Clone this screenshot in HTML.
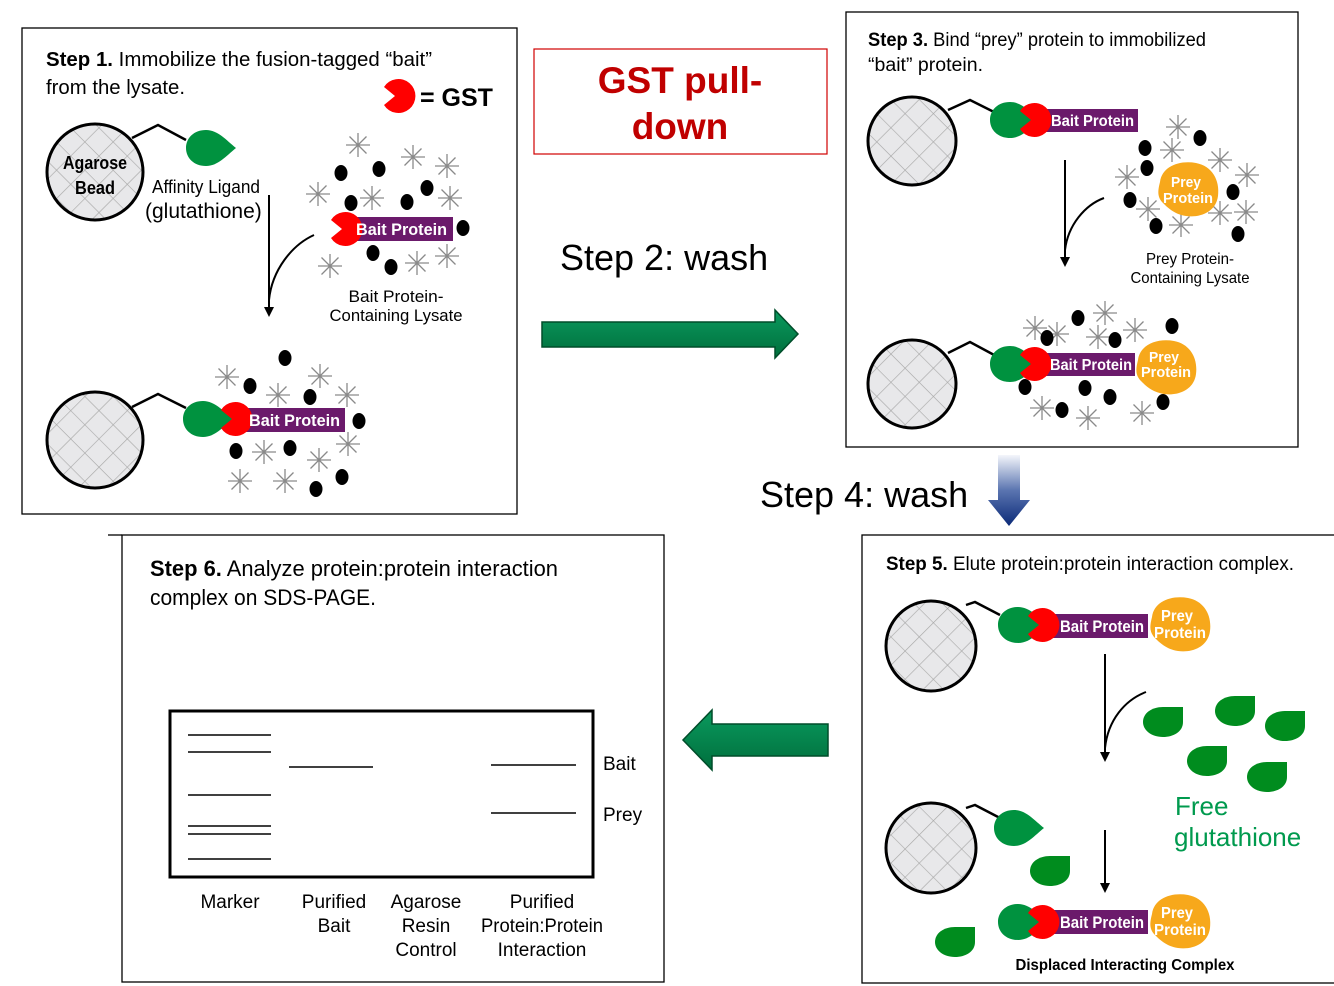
<!DOCTYPE html>
<html><head><meta charset="utf-8"><style>
html,body{margin:0;padding:0;background:#fff;}
svg{display:block}
.n{font-family:"Liberation Sans Narrow","Liberation Sans",sans-serif;}
.s{font-family:"Liberation Sans",sans-serif;}
</style></head><body>
<svg width="1334" height="986" viewBox="0 0 1334 986" xmlns="http://www.w3.org/2000/svg">
<defs>
<pattern id="hatch" width="20" height="20" patternUnits="userSpaceOnUse" patternTransform="rotate(45)">
<rect width="20" height="20" fill="#e8e8ea"/>
<path d="M0,0 H20 M0,0 V20" stroke="#a8a8a8" stroke-width="1.3"/>
</pattern>
<path id="leaf" d="M26,0 C16,-8 8,-18 -4,-18 C-16,-18 -24,-10 -24,0 C-24,10 -16,18 -4,18 C8,18 16,8 26,0 Z" fill="#00923f"/>
<path id="free" d="M20,-15 L20,0 C20,10 10,15 0,15 C-12,15 -20,8 -20,0 C-20,-9 -11,-15 0,-15 Z" fill="#008c1e"/>
<path id="gst" d="M-14,-9 L-3,0 L-14,9 A17,17 0 1 0 -14,-9 Z" fill="#ff0000"/>
<g id="star" stroke="#8a8a8a" stroke-width="1.3"><path d="M-12,0H12M0,-12V12M-8.5,-8.5L8.5,8.5M-8.5,8.5L8.5,-8.5"/></g>
<ellipse id="dot" rx="6.5" ry="8" fill="#000"/>
<path id="prey" d="M-28,-8 C-26,-24 -8,-30 8,-27 C24,-24 32,-10 30,6 C28,22 12,28 -2,26 C-14,24 -20,18 -26,12 C-31,6 -30,0 -28,-8 Z" fill="#f7a81b"/>
<marker id="ah" markerWidth="10" markerHeight="10" refX="5" refY="5" orient="auto" markerUnits="userSpaceOnUse"><path d="M0,0 L10,5 L0,10 Z" fill="#000"/></marker>
<linearGradient id="gg" x1="0" y1="0" x2="0" y2="1"><stop offset="0" stop-color="#0a9a5e"/><stop offset="1" stop-color="#006e3c"/></linearGradient>
<linearGradient id="bg" x1="0" y1="0" x2="0" y2="1"><stop offset="0" stop-color="#f4f6fb"/><stop offset="0.5" stop-color="#5a74b0"/><stop offset="1" stop-color="#0b2a78"/></linearGradient>
</defs>

<g fill="none" stroke="#000" stroke-width="1.3">
<rect x="22" y="28" width="495" height="486"/>
<rect x="846" y="12" width="452" height="435"/>
<rect x="122" y="535" width="542" height="447"/>
<path d="M108,535 H122"/>
<rect x="862" y="535" width="490" height="448"/>
</g>
<rect x="534" y="49" width="293" height="105" fill="none" stroke="#d00000" stroke-width="1.2"/>
<text x="680" y="93" text-anchor="middle" class="s" font-size="37" font-weight="bold" fill="#c00000">GST pull-</text>
<text x="680" y="139" text-anchor="middle" class="s" font-size="37" font-weight="bold" fill="#c00000">down</text>

<text x="560" y="270" class="s" font-size="36">Step 2: wash</text>
<path d="M542,322 H775 V310 L798,334 L775,358 V347 H542 Z" fill="url(#gg)" stroke="#004d2a" stroke-width="1.5"/>
<text x="760" y="507" class="s" font-size="36">Step 4: wash</text>
<path d="M998,455 H1020 V500 H1030 L1009,526 L988,500 H998 Z" fill="url(#bg)"/>
<path d="M828,724 H712 V710 L683,740 L712,770 V756 H828 Z" fill="url(#gg)" stroke="#004d2a" stroke-width="1.5"/>

<!-- STEP 1 -->
<text x="46" y="66" class="n" font-size="20" textLength="386" lengthAdjust="spacingAndGlyphs"><tspan font-weight="bold">Step 1.</tspan> Immobilize the fusion-tagged “bait”</text>
<text x="46" y="94" class="n" font-size="20" textLength="139" lengthAdjust="spacingAndGlyphs">from the lysate.</text>
<use href="#gst" x="398" y="96"/>
<text x="420" y="106" class="s" font-size="25" font-weight="bold">= GST</text>

<circle cx="95" cy="172" r="48" fill="url(#hatch)" stroke="#000" stroke-width="3"/>
<text x="95" y="169" text-anchor="middle" class="n" font-size="18" font-weight="bold" textLength="64" lengthAdjust="spacingAndGlyphs">Agarose</text>
<text x="95" y="194" text-anchor="middle" class="n" font-size="18" font-weight="bold" textLength="40" lengthAdjust="spacingAndGlyphs">Bead</text>
<polyline points="132,138 158,125 186,140" fill="none" stroke="#000" stroke-width="2.5"/>
<use href="#leaf" x="210" y="148"/>
<text x="152" y="193" class="n" font-size="18" textLength="108" lengthAdjust="spacingAndGlyphs">Affinity Ligand</text>
<text x="145" y="218" class="s" font-size="21">(glutathione)</text>
<path d="M269,195 V312" stroke="#000" stroke-width="2" marker-end="url(#ah)"/>
<path d="M314,235 C292,245 272,270 269,300" fill="none" stroke="#000" stroke-width="2"/>

<g>
<use href="#star" x="358" y="145"/><use href="#star" x="413" y="157"/><use href="#star" x="447" y="166"/><use href="#star" x="318" y="194"/><use href="#star" x="372" y="198"/><use href="#star" x="450" y="198"/><use href="#star" x="330" y="266"/><use href="#star" x="417" y="263"/><use href="#star" x="447" y="256"/>
<use href="#dot" x="341" y="173"/><use href="#dot" x="379" y="169"/><use href="#dot" x="427" y="188"/><use href="#dot" x="351" y="203"/><use href="#dot" x="407" y="202"/><use href="#dot" x="463" y="228"/><use href="#dot" x="373" y="253"/><use href="#dot" x="391" y="267"/>
</g>
<rect x="350" y="217" width="103" height="24" fill="#6b1a6b"/>
<use href="#gst" x="345" y="229"/>
<text x="356" y="235" class="n" font-size="17" font-weight="bold" fill="#fff" textLength="91" lengthAdjust="spacingAndGlyphs">Bait Protein</text>
<text x="396" y="302" text-anchor="middle" class="n" font-size="17" textLength="95" lengthAdjust="spacingAndGlyphs">Bait Protein-</text>
<text x="396" y="321" text-anchor="middle" class="n" font-size="17" textLength="133" lengthAdjust="spacingAndGlyphs">Containing Lysate</text>

<circle cx="95" cy="440" r="48" fill="url(#hatch)" stroke="#000" stroke-width="3"/>
<polyline points="132,407 158,394 186,408" fill="none" stroke="#000" stroke-width="2.5"/>
<g>
<use href="#star" x="227" y="377"/><use href="#star" x="320" y="376"/><use href="#star" x="278" y="395"/><use href="#star" x="347" y="395"/><use href="#star" x="264" y="452"/><use href="#star" x="319" y="460"/><use href="#star" x="348" y="444"/><use href="#star" x="240" y="481"/><use href="#star" x="285" y="481"/>
<use href="#dot" x="285" y="358"/><use href="#dot" x="250" y="386"/><use href="#dot" x="310" y="397"/><use href="#dot" x="359" y="421"/><use href="#dot" x="236" y="451"/><use href="#dot" x="342" y="477"/><use href="#dot" x="316" y="489"/><use href="#dot" x="290" y="448"/>
</g>
<rect x="243" y="408" width="102" height="24" fill="#6b1a6b"/>
<use href="#leaf" x="207" y="419"/>
<use href="#gst" x="235" y="419"/>
<text x="249" y="426" class="n" font-size="17" font-weight="bold" fill="#fff" textLength="91" lengthAdjust="spacingAndGlyphs">Bait Protein</text>

<!-- STEP 3 -->
<text x="868" y="46" class="n" font-size="19" textLength="338" lengthAdjust="spacingAndGlyphs"><tspan font-weight="bold">Step 3.</tspan> Bind “prey” protein to immobilized</text>
<text x="868" y="71" class="n" font-size="19" textLength="115" lengthAdjust="spacingAndGlyphs">“bait” protein.</text>
<circle cx="912" cy="141" r="44" fill="url(#hatch)" stroke="#000" stroke-width="3"/>
<polyline points="948,110 970,100 996,113" fill="none" stroke="#000" stroke-width="2.5"/>
<rect x="1040" y="109" width="98" height="23" fill="#6b1a6b"/>
<use href="#leaf" x="1014" y="120"/>
<use href="#gst" x="1034" y="120"/>
<text x="1051" y="126" class="n" font-size="16" font-weight="bold" fill="#fff" textLength="83" lengthAdjust="spacingAndGlyphs">Bait Protein</text>
<path d="M1065,160 V262" stroke="#000" stroke-width="2" marker-end="url(#ah)"/>
<path d="M1104,198 C1085,205 1068,225 1065,250" fill="none" stroke="#000" stroke-width="2"/>
<g>
<use href="#star" x="1178" y="127"/><use href="#star" x="1172" y="150"/><use href="#star" x="1220" y="160"/><use href="#star" x="1127" y="177"/><use href="#star" x="1247" y="175"/><use href="#star" x="1148" y="209"/><use href="#star" x="1181" y="225"/><use href="#star" x="1220" y="213"/><use href="#star" x="1246" y="212"/>
<use href="#dot" x="1145" y="148"/><use href="#dot" x="1200" y="138"/><use href="#dot" x="1147" y="168"/><use href="#dot" x="1130" y="200"/><use href="#dot" x="1233" y="192"/><use href="#dot" x="1156" y="226"/><use href="#dot" x="1238" y="234"/>
</g>
<use href="#prey" x="1188" y="190"/>
<text x="1186" y="187" text-anchor="middle" class="n" font-size="15" font-weight="bold" fill="#fff" textLength="30" lengthAdjust="spacingAndGlyphs">Prey</text>
<text x="1188" y="203" text-anchor="middle" class="n" font-size="15" font-weight="bold" fill="#fff" textLength="50" lengthAdjust="spacingAndGlyphs">Protein</text>
<text x="1190" y="264" text-anchor="middle" class="n" font-size="16" textLength="88" lengthAdjust="spacingAndGlyphs">Prey Protein-</text>
<text x="1190" y="283" text-anchor="middle" class="n" font-size="16" textLength="119" lengthAdjust="spacingAndGlyphs">Containing Lysate</text>

<circle cx="912" cy="384" r="44" fill="url(#hatch)" stroke="#000" stroke-width="3"/>
<polyline points="948,353 970,342 996,356" fill="none" stroke="#000" stroke-width="2.5"/>
<g>
<use href="#star" x="1035" y="328"/><use href="#star" x="1105" y="313"/><use href="#star" x="1135" y="330"/><use href="#star" x="1098" y="337"/><use href="#star" x="1042" y="408"/><use href="#star" x="1088" y="418"/><use href="#star" x="1142" y="413"/><use href="#star" x="1057" y="334"/>
<use href="#dot" x="1078" y="318"/><use href="#dot" x="1172" y="326"/><use href="#dot" x="1047" y="338"/><use href="#dot" x="1115" y="340"/><use href="#dot" x="1025" y="387"/><use href="#dot" x="1062" y="410"/><use href="#dot" x="1110" y="397"/><use href="#dot" x="1163" y="402"/><use href="#dot" x="1085" y="388"/>
</g>
<rect x="1040" y="353" width="95" height="23" fill="#6b1a6b"/>
<use href="#leaf" x="1014" y="364"/>
<use href="#gst" x="1034" y="364"/>
<use href="#prey" x="1166" y="368"/>
<text x="1050" y="370" class="n" font-size="16" font-weight="bold" fill="#fff" textLength="82" lengthAdjust="spacingAndGlyphs">Bait Protein</text>
<text x="1164" y="362" text-anchor="middle" class="n" font-size="15" font-weight="bold" fill="#fff" textLength="30" lengthAdjust="spacingAndGlyphs">Prey</text>
<text x="1166" y="377" text-anchor="middle" class="n" font-size="15" font-weight="bold" fill="#fff" textLength="50" lengthAdjust="spacingAndGlyphs">Protein</text>

<!-- STEP 5 -->
<text x="886" y="570" class="n" font-size="19" textLength="408" lengthAdjust="spacingAndGlyphs"><tspan font-weight="bold">Step 5.</tspan> Elute protein:protein interaction complex.</text>
<circle cx="931" cy="646" r="45" fill="url(#hatch)" stroke="#000" stroke-width="3"/>
<polyline points="966,605 975,602 1000,615" fill="none" stroke="#000" stroke-width="2.5"/>
<rect x="1052" y="614" width="96" height="24" fill="#6b1a6b"/>
<use href="#leaf" x="1022" y="625"/>
<use href="#gst" x="1042" y="625"/>
<use href="#prey" x="1180" y="625"/>
<text x="1060" y="632" class="n" font-size="17" font-weight="bold" fill="#fff" textLength="84" lengthAdjust="spacingAndGlyphs">Bait Protein</text>
<text x="1177" y="621" text-anchor="middle" class="n" font-size="16" font-weight="bold" fill="#fff" textLength="32" lengthAdjust="spacingAndGlyphs">Prey</text>
<text x="1180" y="638" text-anchor="middle" class="n" font-size="16" font-weight="bold" fill="#fff" textLength="52" lengthAdjust="spacingAndGlyphs">Protein</text>
<path d="M1105,654 V757" stroke="#000" stroke-width="2" marker-end="url(#ah)"/>
<path d="M1146,692 C1125,700 1108,720 1105,748" fill="none" stroke="#000" stroke-width="2"/>
<use href="#free" x="1163" y="722"/><use href="#free" x="1235" y="711"/><use href="#free" x="1285" y="726"/><use href="#free" x="1207" y="761"/><use href="#free" x="1267" y="777"/>
<text x="1175" y="815" class="s" font-size="26" fill="#009a4e">Free</text>
<text x="1174" y="846" class="s" font-size="26" fill="#009a4e">glutathione</text>

<circle cx="931" cy="848" r="45" fill="url(#hatch)" stroke="#000" stroke-width="3"/>
<polyline points="966,808 975,805 1000,818" fill="none" stroke="#000" stroke-width="2.5"/>
<use href="#leaf" x="1018" y="828"/>
<use href="#free" x="1050" y="871"/><use href="#free" x="955" y="942"/>
<path d="M1105,830 V888" stroke="#000" stroke-width="2" marker-end="url(#ah)"/>
<rect x="1052" y="910" width="96" height="24" fill="#6b1a6b"/>
<use href="#leaf" x="1022" y="922" fill="#008c1e"/>
<use href="#gst" x="1042" y="922"/>
<use href="#prey" x="1180" y="922"/>
<text x="1060" y="928" class="n" font-size="17" font-weight="bold" fill="#fff" textLength="84" lengthAdjust="spacingAndGlyphs">Bait Protein</text>
<text x="1177" y="918" text-anchor="middle" class="n" font-size="16" font-weight="bold" fill="#fff" textLength="32" lengthAdjust="spacingAndGlyphs">Prey</text>
<text x="1180" y="935" text-anchor="middle" class="n" font-size="16" font-weight="bold" fill="#fff" textLength="52" lengthAdjust="spacingAndGlyphs">Protein</text>
<text x="1125" y="970" text-anchor="middle" class="n" font-size="16" font-weight="bold" textLength="219" lengthAdjust="spacingAndGlyphs">Displaced Interacting Complex</text>

<!-- STEP 6 -->
<text x="150" y="576" class="n" font-size="22" textLength="408" lengthAdjust="spacingAndGlyphs"><tspan font-weight="bold">Step 6.</tspan> Analyze protein:protein interaction</text>
<text x="150" y="605" class="n" font-size="22" textLength="226" lengthAdjust="spacingAndGlyphs">complex on SDS-PAGE.</text>
<rect x="170" y="711" width="423" height="166" fill="#fff" stroke="#000" stroke-width="3"/>
<g stroke="#000" stroke-width="1.5">
<path d="M188,735H271M188,752H271M188,795H271M188,826H271M188,834H271M188,859H271M289,767H373M491,765H576M491,813H576"/>
</g>
<g class="n" font-size="19">
<text x="603" y="770">Bait</text>
<text x="603" y="821">Prey</text>
<g text-anchor="middle">
<text x="230" y="908">Marker</text>
<text x="334" y="908">Purified</text><text x="334" y="932">Bait</text>
<text x="426" y="908">Agarose</text><text x="426" y="932">Resin</text><text x="426" y="956">Control</text>
<text x="542" y="908">Purified</text><text x="542" y="932" textLength="122" lengthAdjust="spacingAndGlyphs">Protein:Protein</text><text x="542" y="956">Interaction</text>
</g></g>
</svg>
</body></html>
